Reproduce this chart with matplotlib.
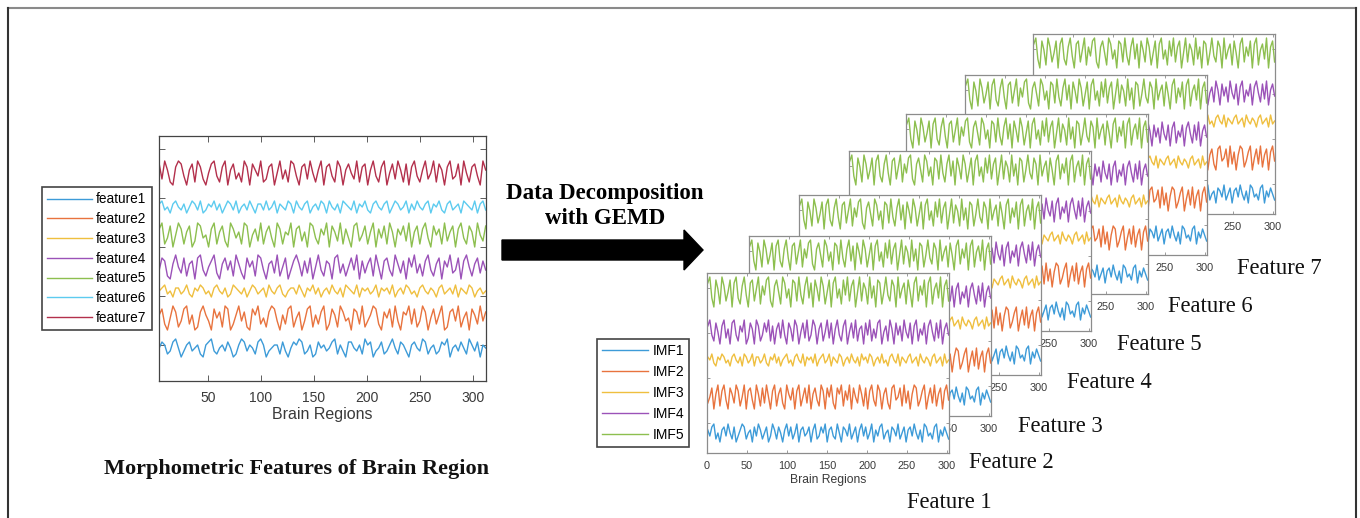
import matplotlib.pyplot as plt
from matplotlib.patches import FancyArrow
import numpy as np

W, H = 1360, 518

feature_names = ['feature1', 'feature2', 'feature3', 'feature4',
                 'feature5', 'feature6', 'feature7']
imf_names = ['IMF1', 'IMF2', 'IMF3', 'IMF4', 'IMF5']
panel_titles = ['Feature 1', 'Feature 2', 'Feature 3', 'Feature 4',
                'Feature 5', 'Feature 6', 'Feature 7']
left_ticks = [50, 100, 150, 200, 250, 300]
right_ticks = [0, 50, 100, 150, 200, 250, 300]

# morphometric features (values estimated from the left plot, arbitrary units)
feature1 = [0, 2, 1, -2, -1, 2, 3, 0, -3, -1, 1, 2, -1, 0, 1, -2, -3, 1, 2, 3,
            -1, -2, 0, 1, -1, 2, 0, -3, -2, 1, 3, 2, -1, 1, 0, -2, 2, 3, 1, -3,
            -1, 0, 1, 1, -2, 2, -1, -3, 0, 2, 1, 3, 2, -2, -1, 1, -3, -2, 2, 0,
            1, -1, 0, 2, 3, -2, 1, -1, -3, 2, 2, 0, -1, 1, -2, 3, 1, 2, -3, -1,
            0, 2, -2, -1, 1, 3, 0, -2, 2, 1, -1, -3, 1, 2, 0, -1, 3, 2, -2, 0,
            1, -2, -1, 2, 1, 3, -3, 0, 1, -1, 2, 0, -2, 3, 1, -1, 2, -3, 1, 0]
feature2 = [1, 3, -2, -4, 0, 4, 2, -3, -1, 3, 4, -2, 1, -4, -3, 2, 4, 1, -1, -4,
            3, 0, 2, -3, 4, 3, -4, -2, 1, 4, -1, 2, -3, -4, 3, 1, 4, -2, 0, -3,
            2, 4, 3, -1, -4, 1, -2, 3, 4, -3, 0, 2, -4, -1, 3, 4, -3, 1, -2, 2,
            4, -4, -2, 3, 1, -3, 4, 2, -1, 0, -4, 3, 2, -2, 4, -3, -1, 1, 4, 3,
            -2, -4, 2, 0, 3, -3, 4, -1, -4, 2, 1, 4, -2, 3, -3, -1, 4, 2, -4, 0,
            3, -2, 1, 4, -4, -3, 2, 3, -1, 4, -3, 0, 2, -4, 3, 1, -2, 4, -1, 2]
feature3 = [0, 1, 2, -1, 0, -2, 1, 1, -1, 0, 2, -1, -2, 1, 0, 2, 1, -1, 0, -2,
            1, 2, 0, -1, 1, -2, -1, 2, 1, 0, -1, 1, -2, 0, 2, 1, -1, 0, 1, -2,
            2, 0, -1, 1, 2, -1, -2, 0, 1, 1, -1, 2, 0, -2, 1, 0, 2, -1, 1, -2,
            0, 1, -1, 2, 0, -1, 1, -2, 2, 1, 0, -1, 2, -2, 1, 0, 1, -1, 0, 2,
            -2, 1, 0, 1, -1, 2, -2, 0, 1, -1, 2, 1, -1, 0, -2, 1, 2, 0, -1, 1,
            0, -2, 1, 2, -1, 0, 1, -1, 2, -2, 1, 0, -1, 2, 1, -2, 0, 1, -1, 0]
feature4 = [-1, 3, 2, -3, -4, 1, 4, 0, -2, 3, -3, 1, 2, -4, 3, 4, -1, -3, 0, 2,
            4, -2, -4, 1, 3, -1, 2, -3, 4, 1, -2, -4, 3, 0, 2, -3, 4, 3, -1, -4,
            1, 2, -2, 4, -3, 0, 3, -4, -1, 2, 4, 1, -3, 2, -2, 3, -4, 0, 4, -1,
            -3, 2, 1, -4, 3, 4, -2, 1, -3, 0, 3, -1, 4, -4, 2, -2, 1, 3, -3, 4,
            0, -4, 2, 3, -1, -3, 4, 1, -2, 2, -4, 3, 0, 4, -2, 1, -3, 2, 4, -1,
            -3, 1, 3, -4, 2, 0, 4, -2, -1, 3, -4, 2, 4, 0, -3, 1, 3, -2, 2, -1]
feature5 = [2, 4, -3, -1, 3, -4, 0, 4, 2, -3, 1, 3, -4, -2, 4, 3, -1, 0, -4, 2,
            4, -3, 1, 3, -2, -4, 4, 2, -1, 1, -3, 4, 3, -4, 0, 2, -2, 4, -3, 1,
            3, -1, -4, 4, 2, -3, 1, 0, 4, -4, 2, 3, -2, 1, -4, 4, 3, -1, -3, 2,
            0, 4, -4, 3, 1, -2, 4, -3, 2, -1, -4, 3, 4, -2, 0, 3, -3, 1, 4, -4,
            2, -1, 3, -3, 4, 1, -4, 2, 0, 3, -2, 4, -4, 1, 3, -3, 2, 4, -1, -4,
            3, 0, 2, -3, 4, -2, 1, 3, -4, 2, 4, -1, -3, 3, 1, -4, 4, 0, -2, 3]
feature6 = [1, 2, -1, 0, -2, 1, 2, 0, -1, 1, -2, 0, 2, 1, -1, 2, -2, -1, 1, 0,
            2, -1, 1, -2, 0, 2, 1, -1, 2, -2, 0, 1, -1, 2, 0, -2, 1, 1, -1, 2,
            -1, 0, 2, -2, 1, 0, -1, 2, 1, -2, 2, 0, -1, 1, 2, -2, 0, 1, -1, 2,
            1, -2, 2, 0, -1, 1, -2, 2, 1, 0, -1, 2, -2, 1, 0, 2, -1, -2, 1, 2,
            0, -1, 1, 2, -2, 0, 2, 1, -1, 0, 2, -2, 1, -1, 2, 0, -1, 1, 2, -2,
            1, 0, 2, -1, -2, 1, 2, -1, 0, 1, -2, 2, 1, 0, -1, 2, -2, 1, 2, -1]
feature7 = [3, -2, 4, 1, -3, -4, 2, 4, 3, -1, -4, 1, 3, -3, 4, 2, -2, -4, 0, 3,
            4, -1, -3, 2, 4, -4, 1, 3, -2, 0, -3, 4, 2, -4, 3, 1, -1, 4, -3, -2,
            2, 3, -4, 0, 4, -2, 1, -3, 4, 3, -1, -4, 2, 3, -2, 4, 0, -3, 1, 4,
            -4, 2, 3, -1, -3, 4, 2, -4, 1, 3, 0, -2, 4, -3, 2, 3, -4, 1, 4, -1,
            -3, 2, 4, -4, 0, 3, -2, 4, 1, -3, 3, -4, 2, 4, -1, -3, 1, 4, -2, 0,
            4, -3, 3, 1, -4, 2, 4, -2, -1, 3, -4, 4, 0, -3, 2, 3, -1, -4, 4, 1]

# IMFs of one feature (the same decomposition is shown on every stacked panel)
imf1 = [1, -1, 2, 3, -2, 0, -3, 1, 2, -1, 3, 0, -2, 2, -3, -1, 1, 3, 2, -2,
        0, 1, -3, 2, -1, 3, 1, -2, 0, 2, -3, -1, 3, 1, -2, 2, 0, -3, 1, 3,
        -1, 2, -2, 0, 3, -3, 1, 2, -1, 0, 2, -3, 1, 3, -2, -1, 2, 0, 3, -3,
        1, 2, -1, -2, 3, 0, -3, 2, 1, -1, 3, -2, 0, 2, -3, 1, 3, -1, 2, -2,
        0, 3, -3, 1, -1, 2, 3, -2, 0, 1, -3, 2, 1, -1, 3, -2, 0, 2, -3, 1,
        2, -1, 3, 0, -2, 1, -3, 3, 2, -1, 0, -2, 2, 3, -3, 1, -1, 2, 0, -2]
imf2 = [-2, 0, 3, -4, 1, 4, -3, 2, 4, -1, -4, 3, 1, -2, 4, 2, -3, 0, 4, -4,
        2, 3, -1, -4, 4, 1, -3, 3, -2, 4, 0, -4, 2, 4, -3, 1, 3, -2, -4, 4,
        1, -1, 3, -4, 2, 4, -3, 0, 3, -2, 4, -4, 1, 3, -1, -3, 4, 2, -4, 3,
        0, 4, -2, -4, 3, 1, 4, -3, 2, -1, 4, -4, 3, 0, -2, 4, 1, -3, 3, -4,
        2, 4, -1, -3, 4, 2, -4, 1, 3, -2, -4, 3, 4, -1, 0, 3, -3, 4, -2, 2,
        -4, 1, 4, 3, -3, -1, 2, 4, -4, 0, 3, -2, 4, -3, 1, 3, -4, 2, 4, -1]
imf3 = [1, 0, 2, -1, -2, 1, 0, 2, 1, -1, 0, -2, 1, 2, 0, -1, 1, -2, 2, 1,
        -1, 0, 2, -2, 1, 1, -1, 0, 2, -1, -2, 1, 0, 2, -1, 1, -2, 0, 1, 2,
        -1, 0, -2, 1, 2, 0, -1, 2, -2, 1, 0, 1, -1, 2, -2, 0, 1, 2, -1, 0,
        2, -2, 1, 0, -1, 2, 1, -2, 0, 1, -1, 2, 0, -1, 1, -2, 2, 0, 1, -1,
        2, 1, -2, 0, 1, -1, 2, -1, 0, -2, 1, 2, 0, -1, 2, -2, 1, 0, -1, 1,
        2, -1, 0, 1, -2, 2, 0, -1, 1, 0, -2, 1, 2, -1, 0, 1, -2, 2, -1, 0]
imf4 = [2, 4, -1, -3, 3, 0, -4, 2, 4, -2, 1, -4, 3, 4, -1, -3, 2, 0, 4, -4,
        -2, 3, 1, -4, 4, 2, -3, -1, 3, 0, 4, -3, 2, -4, 1, 3, -2, 4, -1, -4,
        3, 1, -3, 4, 2, -4, 0, 3, -2, 4, -3, -1, 4, 2, -4, 1, 3, -3, 0, 4,
        -2, 3, -4, 1, 4, -1, -3, 2, 4, -4, 0, 3, -2, 4, -3, 1, 2, -4, 3, -1,
        4, -3, 1, -2, 3, 4, -4, 0, 2, -3, 4, 1, -4, 3, -1, 2, -3, 4, 0, -2,
        3, -4, 2, 4, -3, 1, -1, 3, -4, 2, 4, 0, -3, 3, -2, 4, -4, 1, 3, -1]
imf5 = [3, 5, -2, -5, 4, 1, -4, 5, 2, -3, 0, 4, -5, 3, 5, -2, -4, 2, 5, -1,
        -5, 3, 4, -3, 1, 5, -4, 2, -1, 4, 5, -3, -5, 2, 4, 0, -4, 5, 3, -2,
        1, -5, 4, 3, -3, 5, -1, -4, 2, 5, -2, 3, -5, 4, 1, -3, 5, 2, -4, 0,
        4, -5, 3, 5, -2, 1, -4, 4, -1, 5, -3, 2, 4, -5, 0, 5, -3, 3, 1, -4,
        5, -2, 2, -5, 4, 3, -4, 0, 5, -1, -3, 4, 2, -5, 5, -2, 1, 3, -4, 4,
        0, -5, 3, 5, -3, 2, -1, 4, -5, 3, 5, -4, 1, 3, -2, 5, -5, 2, 4, -3]

features = [feature1, feature2, feature3, feature4, feature5, feature6, feature7]
imfs = [imf1, imf2, imf3, imf4, imf5]

# vertical stacking offsets used by the plots (axis units)
feature_offsets = [33, 63, 90, 114, 146, 174, 208]
imf_offsets = [20, 56, 93, 121, 161]

colors = ['#3d9bd8', '#e8733e', '#efbf3f', '#9b52b8',
          '#8dbf4f', '#5ccbef', '#b3304c']
imf_colors = colors[:5]

SANS = 'Liberation Sans'
SERIF = 'Liberation Serif'


def px_axes(fig, left, top, width, height, zorder):
    """Add an axes given in pixel coordinates (origin top-left)."""
    ax = fig.add_axes([left / W, 1 - (top + height) / H, width / W, height / H])
    ax.set_zorder(zorder)
    return ax


def style_box(ax, tick_size, tick_len, spine_color, pad):
    """MATLAB like box: ticks inside on every side, no y labels."""
    ax.tick_params(direction='in', top=True, right=True, length=tick_len,
                   width=0.6, color=spine_color, labelcolor='#3a3a3a',
                   labelsize=tick_size, pad=pad)
    ax.tick_params(axis='y', labelleft=False)
    for sp in ax.spines.values():
        sp.set_color(spine_color)
        sp.set_linewidth(0.9)
    for lab in ax.get_xticklabels():
        lab.set_family(SANS)


def main():
    fig = plt.figure(figsize=(W / 100, H / 100), dpi=100)

    # canvas for border, arrow and captions (pixel units)
    canvas = fig.add_axes([0, 0, 1, 1])
    canvas.set_xlim(0, W)
    canvas.set_ylim(H, 0)
    canvas.axis('off')
    canvas.set_zorder(0)
    canvas.plot([8, 1356], [8, 8], color='#8a8a8a', lw=1.5)
    canvas.plot([8, 8], [8, H], color='#333333', lw=1.5)
    canvas.plot([1356, 1356], [8, H], color='#333333', lw=1.5)

# Left panel: morphometric features
    ax = px_axes(fig, 159, 136, 327, 245, 1)
    x_feat = np.linspace(4, 312, len(feature1))
    lines = []
    for vals, off, c in zip(features, feature_offsets, colors):
        ln, = ax.plot(x_feat, np.array(vals) * 3 + off, color=c, lw=1.0)
        lines.append(ln)
    ax.set_xlim(3.8, 312.3)
    ax.set_ylim(0, 245)
    ax.set_xticks(left_ticks)
    ax.set_yticks([36, 85, 134, 183, 232])
    style_box(ax, 10, 4, '#444444', 7)
    ax.set_xlabel('Brain Regions', family=SANS, fontsize=11.5,
                  color='#3a3a3a', labelpad=2)
    ax.legend(lines, feature_names, loc='upper left',
              bbox_to_anchor=(42 / W, 1 - 187 / H),
              bbox_transform=fig.transFigure, borderaxespad=0,
              prop={'family': SANS, 'size': 9.8}, handlelength=3.3,
              handletextpad=0.25, labelspacing=0.42, borderpad=0.4,
              fancybox=False, edgecolor='#444444', framealpha=1)
    ax.get_legend().get_frame().set_linewidth(1.2)

    canvas.text(296, 469, 'Morphometric Features of Brain Region',
                family=SERIF, fontweight='bold', fontsize=16,
                ha='center', va='center', color='#111111')

# Arrow with caption
    canvas.add_patch(FancyArrow(502, 250, 201, 0, width=20, head_width=40,
                                head_length=19, length_includes_head=True,
                                color='black'))
    canvas.text(605, 194, 'Data Decomposition', family=SERIF,
                fontweight='bold', fontsize=16.5, ha='center', va='center')
    canvas.text(605, 219, 'with GEMD', family=SERIF,
                fontweight='bold', fontsize=16.5, ha='center', va='center')

# Stacked IMF panels, from the back (Feature 7) to the front (Feature 1)
    panel_left = [707, 749, 799, 849, 906, 965, 1033]
    panel_top = [273, 236, 195, 151, 114, 75, 34]
    label_pos = [(907, 502), (969, 463), (1018, 427), (1067, 382),
                 (1117, 344), (1168, 306), (1237, 268)]
    x_imf = np.linspace(1, 302, len(imf1))

    for k in range(6, -1, -1):
        pax = px_axes(fig, panel_left[k], panel_top[k], 242, 180, 10 - k)
        pax.set_facecolor('white')
        imf_lines = []
        for vals, off, c in zip(imfs, imf_offsets, imf_colors):
            ln, = pax.plot(x_imf, np.array(vals) * 3 + off, color=c, lw=1.0)
            imf_lines.append(ln)
        pax.set_xlim(0, 302.5)
        pax.set_ylim(0, 180)
        pax.set_xticks(right_ticks)
        pax.set_yticks([30, 75, 120, 165])
        style_box(pax, 7.8, 2.5, '#8c8c8c', 6)
        pax.set_xlabel('Brain Regions', family=SANS, fontsize=8.7,
                       color='#3a3a3a', labelpad=2)
        if k == 0:
            pax.legend(imf_lines, imf_names, loc='upper left',
                       bbox_to_anchor=(597 / W, 1 - 339 / H),
                       bbox_transform=fig.transFigure, borderaxespad=0,
                       prop={'family': SANS, 'size': 10}, handlelength=3.3,
                       handletextpad=0.35, labelspacing=0.5, borderpad=0.35,
                       fancybox=False, edgecolor='#444444', framealpha=1)
            pax.get_legend().get_frame().set_linewidth(1.2)
        lx, ly = label_pos[k]
        canvas.text(lx, ly, panel_titles[k], family=SERIF, fontsize=16.3,
                    ha='left', va='center', color='#111111')

    fig.savefig('out.png', dpi=100)


if __name__ == "__main__":
    main()
